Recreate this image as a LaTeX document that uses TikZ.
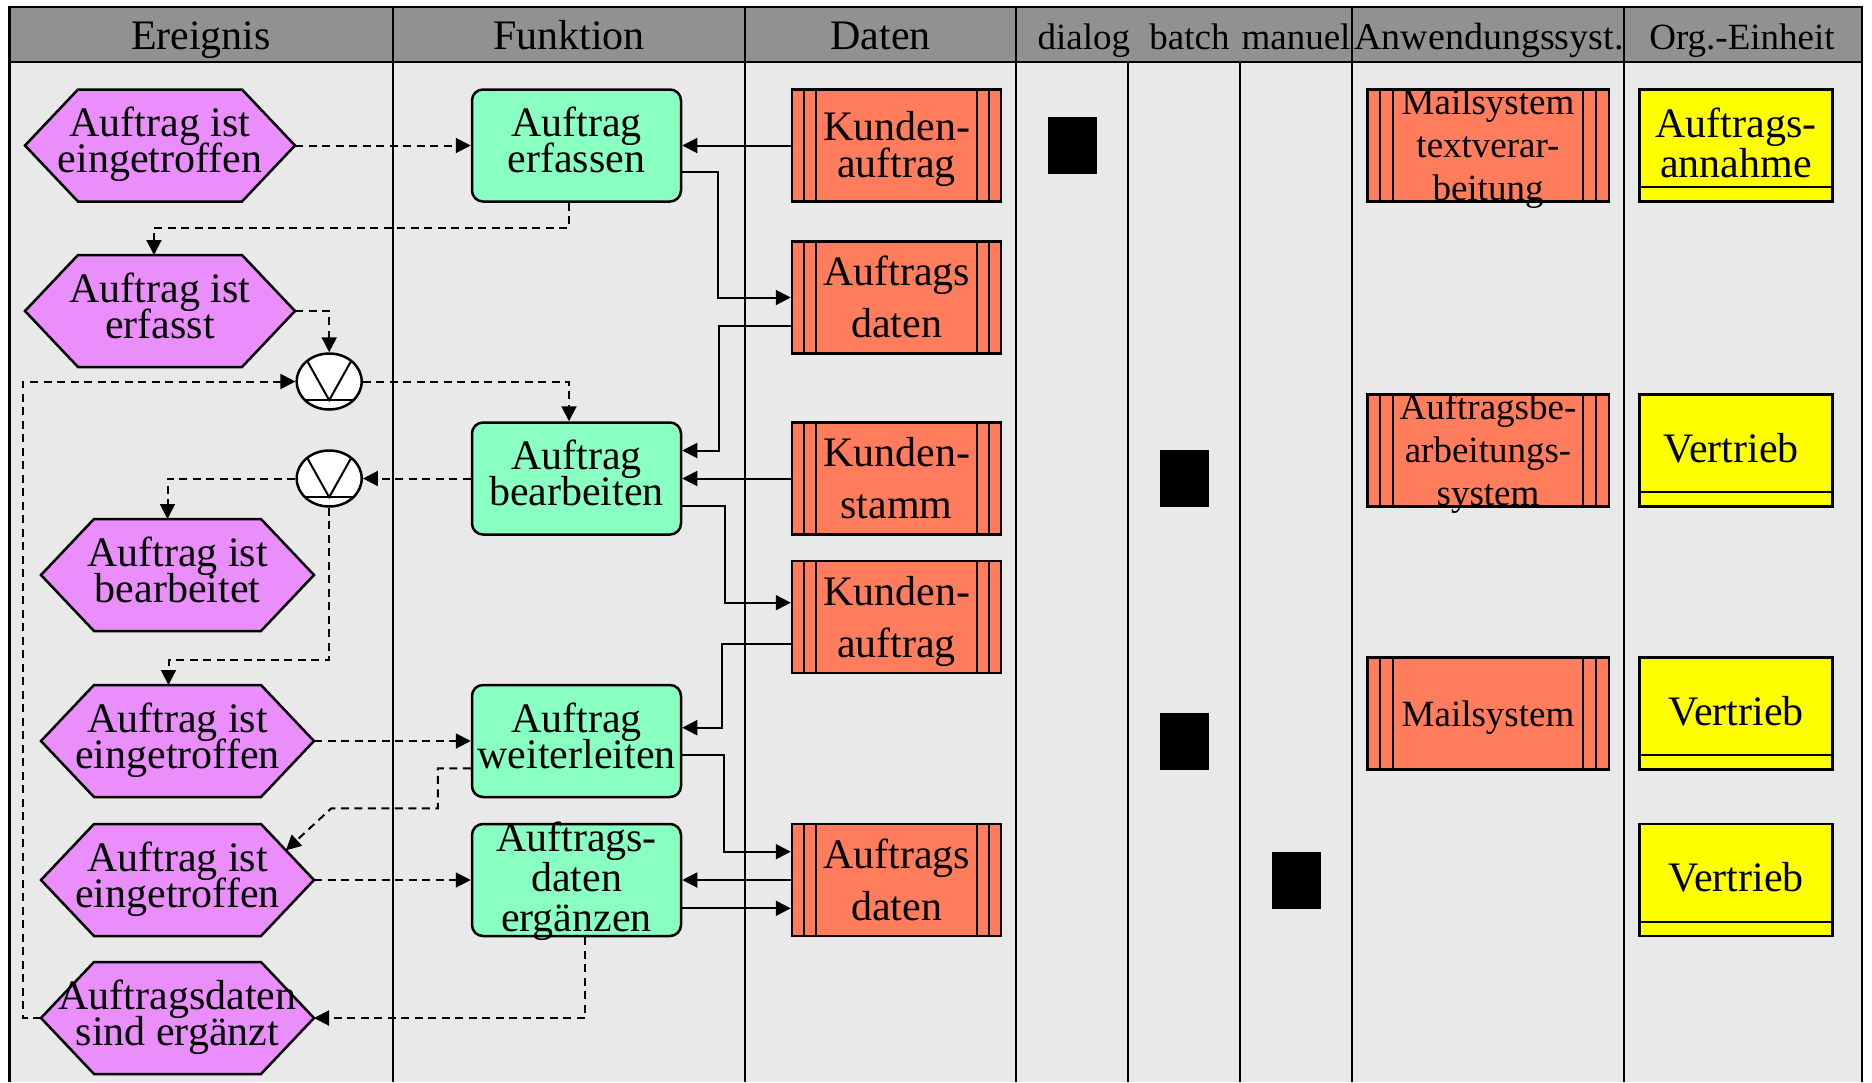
\documentclass[tikz,border=0pt]{standalone}
\usepackage{fontspec}
\setmainfont{Liberation Serif}
\usetikzlibrary{calc,arrows.meta,shapes.geometric}
% keep multi-line labels at their exact baseline distance
\newcommand\tightlines{\lineskiplimit=-1000pt\relax}
\AtBeginDocument{\tightlines}

\definecolor{hdrgray}{RGB}{145,145,145}
\definecolor{lanegray}{RGB}{233,233,233}
\definecolor{evcol}{RGB}{233,142,250}
\definecolor{fncol}{RGB}{137,255,193}
\definecolor{dtcol}{RGB}{255,125,92}
\definecolor{orgcol}{RGB}{255,255,0}

\tikzset{
  lane/.style={line width=2.5pt},
  evbox/.style={rectangle, draw=none, inner sep=0pt, outer sep=0pt, minimum height=112pt},
  evshape/.style={fill=evcol, draw=black, line width=2.5pt, line join=miter},
  fnbox/.style={rectangle, rounded corners=11pt, fill=fncol, draw=black, line width=2.5pt,
    minimum width=209pt, minimum height=112pt, inner sep=0pt},
  striped/.style 2 args={rectangle, draw=black, fill=dtcol, line width=2.5pt,
    minimum height=112pt, inner sep=0pt,
    path picture={
      \foreach \dx in {#1,#2}{
        \draw[line width=2pt] ([xshift=\dx pt]path picture bounding box.north west)
          -- ([xshift=\dx pt]path picture bounding box.south west);
        \draw[line width=2pt] ([xshift=-\dx pt]path picture bounding box.north east)
          -- ([xshift=-\dx pt]path picture bounding box.south east);}}},
  datbox/.style={striped={12}{24}, minimum width=209pt},
  sysbox/.style={striped={13}{26}, minimum width=241.5pt},
  orgbox/.style={rectangle, draw=black, fill=orgcol, line width=2.5pt,
    minimum width=193pt, minimum height=112pt, inner sep=0pt,
    path picture={\draw[line width=2pt]
      ([yshift=14.5pt]path picture bounding box.south west)
      -- ([yshift=14.5pt]path picture bounding box.south east);}},
  mark box/.style={rectangle, fill=black, draw=none, minimum width=49pt, minimum height=57pt, inner sep=0pt},
  conn/.style={ellipse, draw=black, fill=white, line width=2.5pt,
    minimum width=65pt, minimum height=56pt, inner sep=0pt,
    path picture={
      \draw[line width=2pt] ([shift={(-22pt,20.6pt)}]path picture bounding box.center)
        -- ([shift={(0pt,-18.7pt)}]path picture bounding box.center)
        -- ([shift={(22pt,20.6pt)}]path picture bounding box.center);
      \draw[line width=2pt] ([shift={(-34pt,-18.7pt)}]path picture bounding box.center)
        -- ([shift={(34pt,-18.7pt)}]path picture bounding box.center);}},
  txt/.style={inner sep=0pt, outer sep=0pt, align=center},
  evtxt/.style={txt, font={\fontsize{42pt}{36pt}\selectfont\tightlines}},
  fn3txt/.style={txt, font={\fontsize{42pt}{40pt}\selectfont\tightlines}},
  dattxt/.style={txt, font={\fontsize{42pt}{52pt}\selectfont\tightlines}},
  dat1txt/.style={txt, font={\fontsize{42pt}{37pt}\selectfont\tightlines}},
  systxt/.style={txt, font={\fontsize{37pt}{43pt}\selectfont\tightlines}},
  orgtxt/.style={txt, font={\fontsize{42pt}{40pt}\selectfont\tightlines}},
  hdtxt/.style={inner sep=0pt, anchor=base, font=\fontsize{42pt}{48pt}\selectfont},
  hdsmall/.style={hdtxt, font=\fontsize{37pt}{44pt}\selectfont},
  hdmid/.style={hdtxt, font=\fontsize{38pt}{44pt}\selectfont},
  tip/.style={-{Triangle[length=15pt,width=15pt]}},
  flow/.style={tip, line width=2pt, dash pattern=on 8pt off 5.5pt},
  data/.style={tip, line width=2pt},
}

% event: name, x, y, width, text
\newcommand\eventnode[5]{%
  \node[evbox, minimum width=#4pt] (#1) at (#2,#3) {};
  \coordinate (#1-nw) at ($(#1.north west)+(53,0)$);
  \coordinate (#1-ne) at ($(#1.north east)+(-53,0)$);
  \coordinate (#1-se) at ($(#1.south east)+(-53,0)$);
  \coordinate (#1-sw) at ($(#1.south west)+(53,0)$);
  \filldraw[evshape] (#1.west) -- (#1-nw) -- (#1-ne) -- (#1.east)
    -- (#1-se) -- (#1-sw) -- cycle;
  \node[evtxt] (#1-t) at (#1) {\strut #5\strut};
}

\begin{document}
\begin{tikzpicture}[x=1pt, y=-1pt]
\useasboundingbox (0,0) rectangle (1872,1082);

% lanes and header
\fill[hdrgray] (9.5,7) rectangle (1862,62);
\fill[lanegray] (9.5,62) rectangle (1862,1082);
\draw[lane] (9.5,1082) -- (9.5,7) -- (1862,7) -- (1862,1082);
\draw[lane] (9.5,62) -- (1862,62);
\foreach \x in {393,745,1016,1352,1624} \draw[lane] (\x,7) -- (\x,1082);
\foreach \x in {1128,1240} \draw[lane] (\x,62) -- (\x,1082);

\node[hdtxt] (h-ev) at (201,49) {Ereignis};
\node[hdtxt] (h-fn) at (569,49) {Funktion};
\node[hdtxt] (h-dt) at (880.5,49) {Daten};
\node[hdsmall] (h-dia) at (1083.8,49) {dialog};
\node[hdsmall] (h-bat) at (1189.5,49) {batch};
\node[hdsmall] (h-man) at (1296,49) {manuel};
\node[hdmid] (h-as) at (1489,49) {Anwendungssyst.};
\node[hdsmall] (h-org) at (1742,49) {Org.-Einheit};

% events
\eventnode{e1}{160}{145.5}{270}{Auftrag ist\\eingetroffen}
\eventnode{e2}{160}{311}{270}{Auftrag ist\\erfasst}
\eventnode{e3}{177.5}{575}{273}{Auftrag ist\\bearbeitet}
\eventnode{e4}{177.5}{741}{273}{Auftrag ist\\eingetroffen}
\eventnode{e5}{177.5}{880}{273}{Auftrag ist\\eingetroffen}
\eventnode{e6}{177.5}{1018}{273}{Auftragsdaten\\sind ergänzt}

% connectors
\node[conn] (c1) at (329.2,381.5) {};
\node[conn] (c2) at (329.2,478.5) {};

% functions
\node[fnbox] (f1) at (576.5,145.5) {};
\node[evtxt] (f1-t) at (f1) {\strut Auftrag\\erfassen\strut};
\node[fnbox] (f2) at (576.5,478.5) {};
\node[evtxt] (f2-t) at (f2) {\strut Auftrag\\bearbeiten\strut};
\node[fnbox] (f3) at (576.5,741) {};
\node[evtxt] (f3-t) at (f3) {\strut Auftrag\\weiterleiten\strut};
\node[fnbox] (f4) at (576.5,880) {};
\node[fn3txt] (f4-t) at (576.5,883) {\strut Auftrags-\\daten\\ergänzen\strut};

% data
\node[datbox] (d1) at (896.5,145.5) {};
\node[dat1txt] (d1-t) at (896.5,149.8) {\strut Kunden-\\auftrag\strut};
\node[datbox] (d2) at (896.5,297.5) {};
\node[dattxt] (d2-t) at (896.5,301.5) {\strut Auftrags\\daten\strut};
\node[datbox] (d3) at (896.5,478.5) {};
\node[dattxt] (d3-t) at (896.5,482.5) {\strut Kunden-\\stamm\strut};
\node[datbox] (d4) at (896.5,617) {};
\node[dattxt] (d4-t) at (896.5,621) {\strut Kunden-\\auftrag\strut};
\node[datbox] (d5) at (896.5,880) {};
\node[dattxt] (d5-t) at (896.5,884) {\strut Auftrags\\daten\strut};

% processing type marks
\node[mark box] (m1) at (1072.5,145.8) {};
\node[mark box] (m2) at (1184,478.3) {};
\node[mark box] (m3) at (1184,741) {};
\node[mark box] (m4) at (1296,880) {};

% application systems
\node[sysbox] (a1) at (1488,145.5) {};
\node[systxt] (a1-t) at (1488,148.5) {\strut Mailsystem\\textverar-\\beitung\strut};
\node[sysbox] (a2) at (1488,450.5) {};
\node[systxt] (a2-t) at (1488,453.5) {\strut Auftragsbe-\\arbeitungs-\\system\strut};
\node[sysbox] (a3) at (1488,713.5) {};
\node[systxt] (a3-t) at (1488,717.5) {\strut Mailsystem\strut};

% organisational units
\node[orgbox] (o1) at (1736,145.5) {};
\node[orgtxt] (o1-t) at (1736,148.5) {\strut Auftrags-\\annahme\strut};
\node[orgbox] (o2) at (1736,450.5) {};
\node[orgtxt] (o2-t) at (1731,453.5) {\strut Vertrieb\strut};
\node[orgbox] (o3) at (1736,713.5) {};
\node[orgtxt] (o3-t) at (1736,716.5) {\strut Vertrieb\strut};
\node[orgbox] (o4) at (1736,880) {};
\node[orgtxt] (o4-t) at (1736,883) {\strut Vertrieb\strut};

% control flow
\draw[flow] (e1.east) -- (f1.west);
\draw[flow] ($(f1.south)+(-7.5,0)$) -- ++(0,25) -| ($(e2.north)+(-6,0)$);
\draw[flow] (e2.east) -| (c1.north);
\draw[flow] (e6.west) -- ++(-18,0) |- (c1.west);
\draw[flow] (c1.east) -| ($(f2.north)+(-7.5,0)$);
\draw[flow] (f2.west) -- (c2.east);
\draw[flow] (c2.west) -| ($(e3.north)+(-10,0)$);
\draw[flow] (c2.south) -- ++(0,152) -| ($(e4.north)+(-9,0)$);
\draw[flow] (e4.east) -- (f3.west);
\draw[flow] ($(f3.west)+(0,27.3)$) -- ++(-33,0) -- ++(0,40) -- ++(-106.4,0)
  -- ($(e5-ne)!0.47!(e5.east)$);
\draw[flow] (e5.east) -- (f4.west);
\draw[flow] ($(f4.south)+(8.5,0)$) |- (e6.east);

% data flow
\draw[data] (d1.west) -- (f1.east);
\draw[data] ($(f1.east)+(0,26.8)$) -- ++(36,0) |- (d2.west);
\draw[data] ($(d2.west)+(0,28.2)$) -- ++(-72,0) |- ($(f2.east)+(0,-28)$);
\draw[data] (d3.west) -- (f2.east);
\draw[data] ($(f2.east)+(0,27.5)$) -- ++(43,0) |- ($(d4.west)+(0,-14.3)$);
\draw[data] ($(d4.west)+(0,27.3)$) -- ++(-69,0) |- ($(f3.east)+(0,-13.3)$);
\draw[data] ($(f3.east)+(0,14)$) -- ++(42,0) |- ($(d5.west)+(0,-28.3)$);
\draw[data] (d5.west) -- (f4.east);
\draw[data] ($(f4.east)+(0,28.3)$) -- ($(d5.west)+(0,28.3)$);
\end{tikzpicture}
\end{document}
